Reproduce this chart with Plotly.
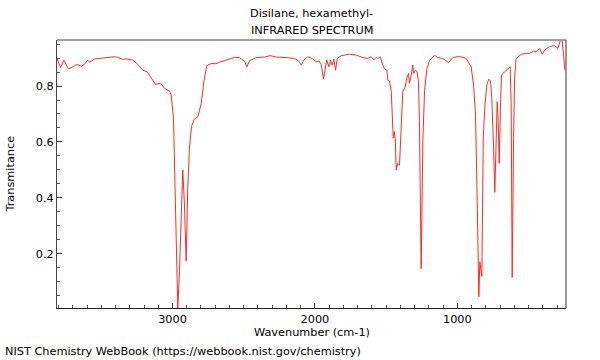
import plotly.graph_objects as go

wavenumber = [3811, 3786, 3763, 3730, 3700, 3669, 3641, 3618, 3595, 3581, 3548, 3477, 3407, 3384,
              3353, 3318, 3279, 3244, 3209, 3178, 3150, 3119, 3084, 3056, 3021, 3009, 2993, 2979,
              2963, 2951, 2937, 2928, 2916, 2904, 2893, 2881, 2867, 2846, 2822, 2798, 2780, 2759,
              2728, 2698, 2670, 2623, 2565, 2530, 2494, 2478, 2459, 2412, 2354, 2314, 2272, 2202,
              2143, 2113, 2096, 2078, 2050, 2019, 1991, 1973, 1956, 1940, 1928, 1917, 1902, 1891,
              1879, 1867, 1855, 1843, 1815, 1757, 1710, 1664, 1629, 1605, 1586, 1570, 1558, 1542,
              1523, 1511, 1495, 1488, 1476, 1464, 1457, 1450, 1443, 1436, 1429, 1420, 1406, 1399,
              1390, 1383, 1366, 1355, 1343, 1336, 1324, 1313, 1306, 1294, 1282, 1273, 1266, 1254,
              1242, 1230, 1214, 1195, 1160, 1137, 1102, 1062, 1032, 985, 938, 903, 886, 872, 860,
              849, 842, 835, 828, 818, 807, 793, 779, 767, 758, 746, 737, 727, 720, 713, 706, 697,
              690, 669, 646, 629, 622, 615, 605, 598, 587, 551, 516, 493, 465, 446, 423, 404, 388,
              353, 318, 294, 275, 264, 254, 245]

transmittance = [0.899, 0.866, 0.893, 0.861, 0.869, 0.878, 0.871, 0.878, 0.893, 0.885, 0.897, 0.902,
                 0.905, 0.903, 0.896, 0.897, 0.893, 0.878, 0.857, 0.851, 0.828, 0.806, 0.810, 0.792,
                 0.782, 0.768, 0.684, 0.374, 0.005, 0.137, 0.374, 0.499, 0.374, 0.173, 0.434, 0.577,
                 0.655, 0.682, 0.690, 0.738, 0.816, 0.873, 0.881, 0.880, 0.885, 0.893, 0.903, 0.902,
                 0.889, 0.869, 0.891, 0.902, 0.904, 0.909, 0.904, 0.902, 0.899, 0.889, 0.875, 0.893,
                 0.905, 0.899, 0.887, 0.890, 0.878, 0.825, 0.863, 0.893, 0.869, 0.893, 0.875, 0.897,
                 0.857, 0.899, 0.909, 0.914, 0.911, 0.902, 0.899, 0.905, 0.894, 0.903, 0.899, 0.905,
                 0.875, 0.861, 0.857, 0.821, 0.818, 0.780, 0.696, 0.613, 0.637, 0.613, 0.499, 0.523,
                 0.517, 0.589, 0.732, 0.780, 0.798, 0.828, 0.845, 0.810, 0.839, 0.875, 0.845, 0.857,
                 0.851, 0.816, 0.673, 0.146, 0.606, 0.785, 0.862, 0.892, 0.910, 0.902, 0.899, 0.884,
                 0.902, 0.906, 0.899, 0.869, 0.804, 0.696, 0.374, 0.045, 0.171, 0.150, 0.118, 0.613,
                 0.726, 0.804, 0.825, 0.818, 0.756, 0.589, 0.419, 0.613, 0.744, 0.670, 0.523, 0.732,
                 0.839, 0.851, 0.863, 0.869, 0.732, 0.114, 0.613, 0.828, 0.899, 0.914, 0.917, 0.917,
                 0.925, 0.922, 0.935, 0.914, 0.929, 0.941, 0.945, 0.935, 0.965, 0.962, 0.911, 0.857]

x_tickvals = [3000, 2000, 1000]
y_tickvals = [0.2, 0.4, 0.6, 0.8]

title_lines = ["Disilane, hexamethyl-", "INFRARED SPECTRUM"]
x_title = "Wavenumber (cm-1)"
y_title = "Transmitance"
footer = "NIST Chemistry WebBook (https://webbook.nist.gov/chemistry)"

FONT = "DejaVu Sans"
FS = 11.3

fig = go.Figure()
fig.add_trace(go.Scatter(x=wavenumber, y=transmittance, mode="lines",
                         line=dict(color="#ff2a2a", width=1), hoverinfo="skip",
                         showlegend=False))

fig.update_layout(
    width=600, height=360,
    margin=dict(l=57, r=34, t=40, b=52, pad=0),
    paper_bgcolor="white", plot_bgcolor="white",
    font=dict(family=FONT, size=FS, color="black"),
    xaxis=dict(range=[3811, 237], tickvals=x_tickvals, ticktext=[str(v) for v in x_tickvals],
               ticks="inside", ticklen=5, tickcolor="#333", tickwidth=1,
               showgrid=False, zeroline=False, showline=True, linecolor="#222", linewidth=1,
               minor=dict(dtick=100, tick0=0, ticks="inside", ticklen=3, tickcolor="#555", showgrid=False),
               tickfont=dict(size=FS)),
    yaxis=dict(range=[0.005, 0.965], tickvals=y_tickvals, ticktext=[f"{v:.1f}" for v in y_tickvals],
               ticks="inside", ticklen=5, tickcolor="#333", tickwidth=1,
               showgrid=False, zeroline=False, showline=True, linecolor="#444", linewidth=1,
               minor=dict(dtick=0.05, tick0=0, ticks="inside", ticklen=3, tickcolor="#555", showgrid=False),
               tickfont=dict(size=FS)),
    shapes=[
        dict(type="line", xref="paper", yref="paper", x0=0, x1=1, y0=1, y1=1,
             line=dict(color="#a0a0a0", width=2)),
        dict(type="line", xref="paper", yref="paper", x0=1, x1=1, y0=0, y1=1,
             line=dict(color="#777777", width=1.5)),
    ],
    annotations=[
        dict(text=title_lines[0], xref="paper", yref="paper", x=0.5, y=1.1007,
             xanchor="center", yanchor="middle", showarrow=False, font=dict(size=FS)),
        dict(text=title_lines[1], xref="paper", yref="paper", x=0.5, y=1.0373,
             xanchor="center", yanchor="middle", showarrow=False, font=dict(size=FS)),
        dict(text=x_title, xref="paper", yref="paper", x=0.5, y=-0.0896,
             xanchor="center", yanchor="middle", showarrow=False, font=dict(size=FS)),
        dict(text=y_title, xref="paper", yref="paper", x=-0.0933, y=0.5, textangle=-90,
             xanchor="center", yanchor="middle", showarrow=False, font=dict(size=FS)),
        dict(text=footer, xref="paper", yref="paper", x=-0.107, y=-0.164,
             xanchor="left", yanchor="middle", showarrow=False, font=dict(size=FS)),
    ],
)

fig.write_html("out.html", config={"displayModeBar": False},
               post_script="document.body.style.margin='0';document.body.style.padding='0';")
